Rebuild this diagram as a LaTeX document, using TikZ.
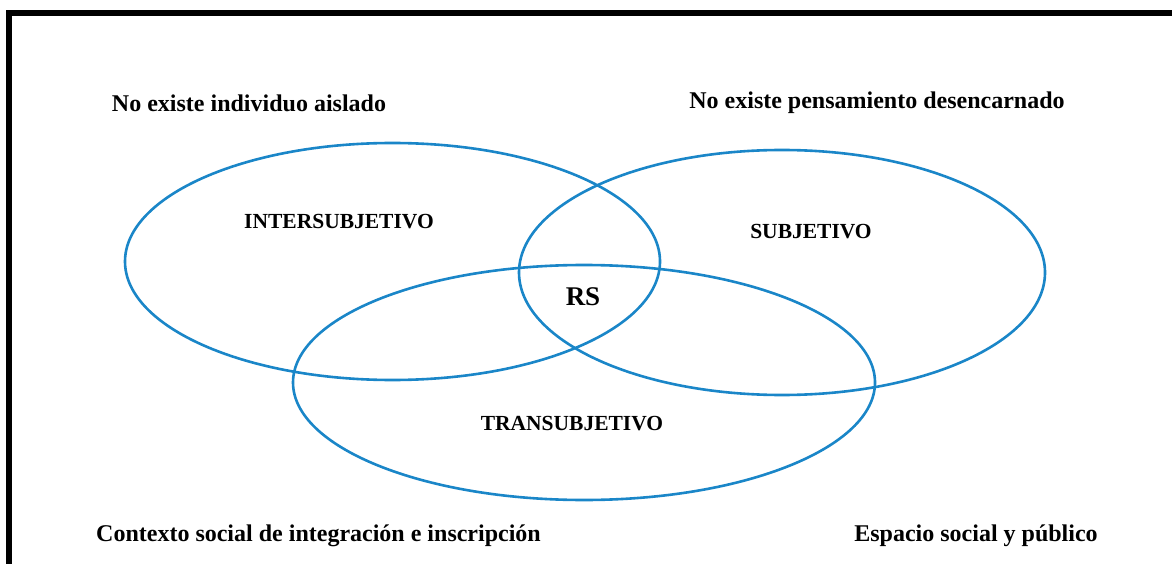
\documentclass[tikz,border=0pt]{standalone}
\usepackage{fontspec}
\setmainfont{Liberation Serif}
\usetikzlibrary{shapes.geometric}
\definecolor{vennblue}{HTML}{1A86C8}
\tikzset{
  venn/.style={draw=vennblue, line width=2.6pt, ellipse, inner sep=0pt},
  outerlabel/.style={font=\fontsize{24}{28}\selectfont\bfseries, inner sep=0pt},
  innerlabel/.style={font=\fontsize{21.5}{25}\selectfont\bfseries, inner sep=0pt},
  rslabel/.style={font=\fontsize{27}{31}\selectfont\bfseries, inner sep=0pt},
  frame/.style={line width=6pt, line join=miter}
}
\begin{document}
\begin{tikzpicture}[x=1pt, y=-1pt]
\useasboundingbox (0,0) rectangle (1172,564);
\fill[white] (0,0) rectangle (1172,564);
\coordinate (fb) at (9,564);
\coordinate (fc) at (9,13);
\coordinate (fr) at (1172,13);
\draw[frame] (fb) -- (fc) -- (fr);
\node[venn, minimum width=535pt, minimum height=237pt] (inter) at (392.5,261.5) {};
\node[venn, minimum width=526pt, minimum height=245pt] (subj) at (782,272.5) {};
\node[venn, minimum width=582pt, minimum height=235pt] (trans) at (584,382.5) {};
\node[outerlabel] (t1) at (249,103) {No existe individuo aislado};
\node[outerlabel] (t2) at (877,103) {No existe pensamiento desencarnado};
\node[outerlabel] (t3) at (318.5,536) {Contexto social de integración e inscripción};
\node[outerlabel] (t4) at (976,536) {Espacio social y público};
\node[innerlabel] (l1) at (339,222) {INTERSUBJETIVO};
\node[innerlabel] (l2) at (811,232) {SUBJETIVO};
\node[innerlabel] (l3) at (572,424) {TRANSUBJETIVO};
\node[rslabel] (rs) at (583,297) {RS};
\end{tikzpicture}
\end{document}
